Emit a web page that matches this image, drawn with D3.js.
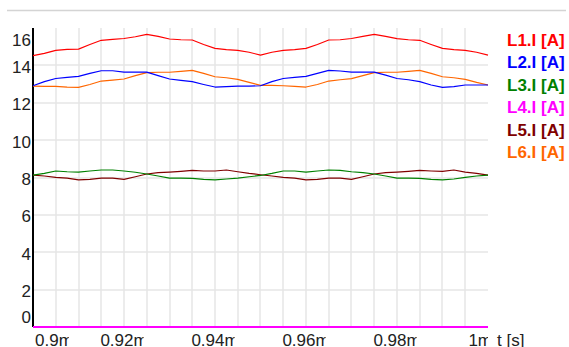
<!DOCTYPE html>
<html><head><meta charset="utf-8">
<script src="https://cdn.jsdelivr.net/npm/d3@7"></script>
<style>
html,body{margin:0;padding:0;background:#fff;overflow:hidden}
text{font-family:"Liberation Sans",Arial,sans-serif}
</style></head>
<body><svg id="c" width="569" height="347"></svg>
<script>
const times = [0.9,0.9025,0.905,0.9075,0.91,0.9125,0.915,0.9175,0.92,0.9225,0.925,0.9275,0.93,0.9325,0.935,0.9375,0.94,0.9425,0.945,0.9475,0.95,
  0.9525,0.955,0.9575,0.96,0.9625,0.965,0.9675,0.97,0.9725,0.975,0.9775,0.98,0.9825,0.985,0.9875,0.99,0.9925,0.995,0.9975,1.0];
const seriesNames = ["L1.I [A]","L2.I [A]","L3.I [A]","L4.I [A]","L5.I [A]","L6.I [A]"];
const seriesColors = ["#ff0000","#0000ff","#008000","#ff00ff","#800000","#ff6600"];
const L1 = [14.52,14.64,14.80,14.86,14.87,15.12,15.34,15.39,15.44,15.53,15.66,15.55,15.41,15.37,15.36,15.12,14.91,14.84,14.80,14.70,14.55,
  14.70,14.80,14.84,14.91,15.12,15.36,15.37,15.44,15.55,15.66,15.55,15.43,15.37,15.34,15.12,14.91,14.84,14.80,14.70,14.55];
const L2 = [12.91,13.13,13.30,13.36,13.41,13.57,13.71,13.71,13.64,13.64,13.64,13.45,13.27,13.20,13.13,12.98,12.84,12.86,12.89,12.89,12.91,
  13.13,13.30,13.36,13.41,13.57,13.73,13.70,13.64,13.64,13.64,13.48,13.30,13.23,13.13,12.95,12.82,12.86,12.95,12.95,12.95];
const L3 = [8.13,8.22,8.35,8.31,8.29,8.35,8.40,8.40,8.35,8.28,8.19,8.08,7.97,7.97,7.95,7.90,7.87,7.92,7.97,8.04,8.11,
  8.22,8.35,8.35,8.29,8.35,8.40,8.38,8.31,8.26,8.19,8.08,7.97,7.97,7.95,7.90,7.87,7.92,8.01,8.08,8.13];
const L4 = [0,0,0,0,0,0,0,0,0,0,0,0,0,0,0,0,0,0,0,0,0,0,0,0,0,0,0,0,0,0,0,0,0,0,0,0,0,0,0,0,0];
const L5 = [8.13,8.08,8.01,7.97,7.87,7.90,7.97,7.97,7.90,8.04,8.19,8.26,8.29,8.33,8.38,8.35,8.35,8.40,8.31,8.22,8.15,
  8.08,8.01,7.97,7.87,7.90,7.97,7.97,7.90,8.04,8.19,8.26,8.29,8.33,8.38,8.35,8.33,8.40,8.29,8.22,8.13];
const L6 = [12.89,12.88,12.88,12.84,12.82,12.98,13.16,13.21,13.27,13.45,13.61,13.63,13.63,13.68,13.73,13.57,13.39,13.34,13.25,13.09,12.93,
  12.93,12.91,12.88,12.84,12.98,13.16,13.23,13.29,13.45,13.61,13.63,13.63,13.68,13.73,13.57,13.39,13.34,13.25,13.09,12.95];
const yTicks = [0,2,4,6,8,10,12,14,16];
const xGrid = [0.905,0.91,0.915,0.92,0.925,0.93,0.935,0.94,0.945,0.95,0.955,0.96,0.965,0.97,0.975,0.98,0.985,0.99,0.995];
const xLabels = [0.9,0.92,0.94,0.96,0.98,1.0];
const xLabelText = ["0.9m","0.92m","0.94m","0.96m","0.98m","1m"];
const xUnit = "t [s]";

const allSeries = [L1,L2,L3,L4,L5,L6];
const svg = d3.select("#c");
const x = d3.scaleLinear().domain([0.9,1.0]).range([33,488]);
const y = d3.scaleLinear().domain([0,16]).range([327,28]);

svg.append("line").attr("x1",7).attr("x2",566).attr("y1",10.5).attr("y2",10.5)
  .attr("stroke","#d4d4d4").attr("stroke-width",1.5);

svg.append("g").selectAll("line").data(xGrid).join("line")
  .attr("x1",d=>Math.round(x(d))).attr("x2",d=>Math.round(x(d)))
  .attr("y1",y(16)).attr("y2",y(0))
  .attr("stroke","#e6e6e6").attr("stroke-width",1.5);
svg.append("g").selectAll("line").data(yTicks.filter(d=>d>0&&d<16)).join("line")
  .attr("x1",x(0.9)).attr("x2",x(1.0))
  .attr("y1",d=>Math.round(y(d))).attr("y2",d=>Math.round(y(d)))
  .attr("stroke","#e6e6e6").attr("stroke-width",1.5);

svg.append("line").attr("x1",x(0.9)).attr("x2",x(0.9)).attr("y1",y(16)).attr("y2",y(0))
  .attr("stroke","#000").attr("stroke-width",2);
svg.append("line").attr("x1",x(0.9)).attr("x2",x(1.0)).attr("y1",y(0)).attr("y2",y(0))
  .attr("stroke","#000").attr("stroke-width",1);

svg.append("g").selectAll("text").data(yTicks).join("text")
  .attr("x",31).attr("text-anchor","end").attr("font-size",17).attr("fill","#222")
  .attr("y",d=>{
    let b = y(d)+7.5;
    if (b < 45.7) b = 45.7;
    if (b > 322.7) b = 322.7;
    return b;
  })
  .text(d=>d);

const line = d3.line().x((d,i)=>x(times[i])).y(d=>y(d));
const order = [3,4,2,5,1,0];
order.forEach(k=>{
  svg.append("path").datum(allSeries[k]).attr("d",line).attr("fill","none")
    .attr("stroke",seriesColors[k]).attr("stroke-width",k===3?2.2:1.15)
    .attr("stroke-linejoin","round");
});

const defs = svg.append("defs");
const xl = svg.append("g");
xLabels.forEach((v,i)=>{
  const t = xl.append("text").attr("font-size",17).attr("fill","#222").attr("y",346).text(xLabelText[i]);
  const w = t.node().getComputedTextLength();
  let x0 = x(v) - w/2;
  if (x0 < 35) x0 = 35;
  if (x0 + w > 492) x0 = 492 - w;
  t.attr("x",x0);
  const id = "clx"+i;
  defs.append("clipPath").attr("id",id).append("rect")
    .attr("x",x0-2).attr("y",320).attr("width",w-2).attr("height",40);
  t.attr("clip-path","url(#"+id+")");
});
svg.append("text").attr("x",497).attr("y",346).attr("font-size",17).attr("fill","#222").text(xUnit);

svg.append("g").selectAll("text").data(seriesNames).join("text")
  .attr("x",507).attr("y",(d,i)=>46+i*22.4)
  .attr("font-size",17).attr("font-weight","bold")
  .attr("fill",(d,i)=>seriesColors[i]).text(d=>d);
</script></body></html>
